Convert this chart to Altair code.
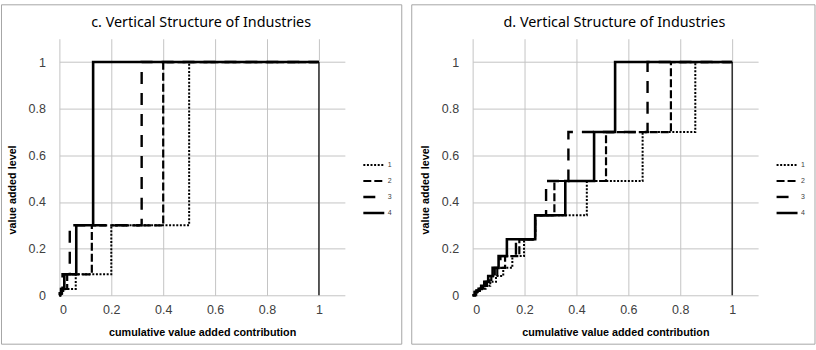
import altair as alt
import pandas as pd

# ---- data -------------------------------------------------------------
series_names = ["1", "2", "3", "4"]
x_ticks = [0, 0.2, 0.4, 0.6, 0.8, 1]
y_ticks = [0, 0.2, 0.4, 0.6, 0.8, 1]

# panel c: value-added levels (top stage first) and the cumulative
# contribution at which each series reaches that level
c_levels = [1.0, 0.3, 0.09, 0.027, 0.0081]
c_series1 = [0.500, 0.200, 0.063, 0.015, 0.004]
c_series2 = [0.400, 0.125, 0.030, 0.010, 0.003]
c_series3 = [0.317, 0.040, 0.012, 0.006, 0.002]
c_series4 = [0.130, 0.065, 0.019, 0.008, 0.002]

# panel d
d_levels = [1.0, 0.7, 0.49, 0.343, 0.2401, 0.1681, 0.1176, 0.0824,
            0.0576, 0.0404, 0.0282, 0.0198, 0.0138]
d_series1 = [0.858, 0.655, 0.440, 0.241, 0.198, 0.153, 0.118, 0.090,
             0.068, 0.050, 0.036, 0.024, 0.014]
d_series2 = [0.764, 0.514, 0.315, 0.241, 0.180, 0.125, 0.095, 0.072,
             0.055, 0.040, 0.028, 0.018, 0.010]
d_series3 = [0.674, 0.369, 0.283, 0.241, 0.167, 0.107, 0.085, 0.065,
             0.050, 0.036, 0.025, 0.016, 0.009]
d_series4 = [0.549, 0.468, 0.357, 0.241, 0.132, 0.100, 0.077, 0.060,
             0.045, 0.033, 0.023, 0.015, 0.008]

end_x = [1.0]
end_lo = [0.0]
end_hi = [1.0]

# ---- styling ----------------------------------------------------------
dash_patterns = [[2, 1.6], [8, 3], [12, 9], [1, 0]]
stroke_widths = [2.0, 2.6, 2.6, 3.0]
GRID = "#c4c4c4"
FRAME = "#a6a6a6"
TEXT = "#404040"
W, H = 286, 257


def step_table(levels, series_list):
    rows = []
    for name, xs in zip(series_names, series_list):
        pts = [(0.0, 0.0)] + list(zip(reversed(xs), reversed(levels))) + [(1.0, 1.0)]
        for i, (x, y) in enumerate(pts):
            rows.append({"series": name, "x": x, "y": y, "idx": i})
    return pd.DataFrame(rows)


def panel(title, levels, series_list, frame_left):
    df = step_table(levels, series_list)

    x_enc = alt.X(
        "x:Q",
        scale=alt.Scale(domain=[0, 1.1], nice=False, zero=False),
        axis=alt.Axis(
            values=x_ticks, format="~g", title="cumulative value added contribution",
            grid=True, gridColor=GRID, domain=False, ticks=False,
            labelPadding=8, labelFontSize=12.5, labelFont="Liberation Sans", labelColor=TEXT,
            titleFont="Liberation Sans", titleFontSize=10.8, titleFontWeight="bold",
            titleColor="black", titleBaseline="middle", titleY=37, titleX=W / 2,
        ),
    )
    y_enc = alt.Y(
        "y:Q",
        scale=alt.Scale(domain=[0, 1.1], nice=False, zero=False),
        axis=alt.Axis(
            values=y_ticks, format="~g", title="value added level",
            grid=True, gridColor=GRID, domain=False, ticks=False,
            labelPadding=14, labelFontSize=12.5, labelFont="Liberation Sans", labelColor=TEXT,
            titleFont="Liberation Sans", titleFontSize=10.8, titleFontWeight="bold",
            titleColor="black", titleBaseline="middle", titleAngle=270,
            titleX=-47, titleY=151, titleAlign="center",
        ),
    )

    leg = alt.Legend(
        orient="none", legendX=303, legendY=119.5, title=None,
        symbolType="stroke", symbolSize=441, symbolStrokeColor="black",
        labelFontSize=7, labelFont="Liberation Sans", labelColor=TEXT,
        labelOffset=2, clipHeight=14, rowPadding=2,
    )

    lines = alt.Chart(df).mark_line(
        interpolate="step-after", color="black", strokeCap="butt", strokeJoin="miter"
    ).encode(
        x=x_enc,
        y=y_enc,
        strokeDash=alt.StrokeDash(
            "series:O", scale=alt.Scale(domain=series_names, range=dash_patterns), legend=leg
        ),
        strokeWidth=alt.StrokeWidth(
            "series:O", scale=alt.Scale(domain=series_names, range=stroke_widths), legend=leg
        ),
        order="idx:Q",
    )

    edge_df = pd.DataFrame({"x": end_x, "lo": end_lo, "hi": end_hi})
    edge = alt.Chart(edge_df).mark_rule(color="black", strokeWidth=1.2).encode(
        x="x:Q", y="lo:Q", y2="hi:Q"
    )

    # outer frame of the panel and its heading
    frame = alt.Chart(edge_df).mark_rect(
        fill="transparent", stroke=FRAME, strokeWidth=1
    ).encode(
        x=alt.value(frame_left), x2=alt.value(343),
        y=alt.value(-34), y2=alt.value(306),
    )
    heading = alt.Chart(edge_df).mark_text(
        text=title, fontSize=14.4, font="Noto Sans", color="black",
        align="center", baseline="middle",
    ).encode(x=alt.value(W / 2 - 1), y=alt.value(-15.5))

    return alt.layer(frame, heading, edge, lines).properties(width=W, height=H)


left = panel("c. Vertical Structure of Industries", c_levels,
             [c_series1, c_series2, c_series3, c_series4], -58)
right = panel("d. Vertical Structure of Industries", d_levels,
              [d_series1, d_series2, d_series3, d_series4], -61)

chart = alt.hconcat(left, right, spacing=8).resolve_scale(
    strokeDash="independent", strokeWidth="independent"
).resolve_legend(
    strokeDash="independent", strokeWidth="independent"
).properties(
    padding={"left": 0.5, "top": 3.5, "right": 0, "bottom": 0},
    background="white",
).configure_view(stroke=None)

chart.save("out.html", embed_options={"renderer": "svg", "actions": False})
